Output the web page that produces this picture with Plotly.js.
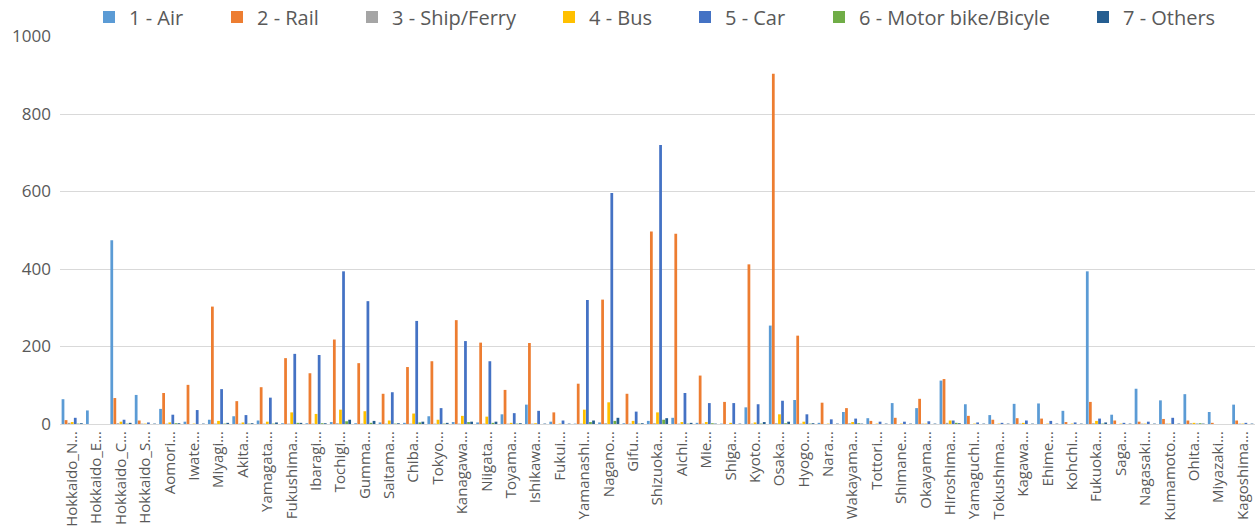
<!DOCTYPE html>
<html>
<head>
<meta charset="utf-8">
<script src="https://cdn.plot.ly/plotly-3.0.1.min.js"></script>
<style>html,body{margin:0;padding:0;background:#fff;}#chart{width:1260px;height:532px;}</style>
</head>
<body>
<div id="chart"></div>
<script>
var categories = ["Hokkaido_N...","Hokkaido_E...","Hokkaido_C...","Hokkaido_S...","Aomori...","Iwate...","Miyagi...","Akita...","Yamagata...","Fukushima...","Ibaragi...","Tochigi...","Gumma...","Saitama...","Chiba...","Tokyo...","Kanagawa...","Niigata...","Toyama...","Ishikawa...","Fukui...","Yamanashi...","Nagano...","Gifu...","Shizuoka...","Aichi...","Mie...","Shiga...","Kyoto...","Osaka...","Hyogo...","Nara...","Wakayama...","Tottori...","Shimane...","Okayama...","Hiroshima...","Yamaguchi...","Tokushima...","Kagawa...","Ehime...","Kohchi...","Fukuoka...","Saga...","Nagasaki...","Kumamoto...","Ohita...","Miyazaki...","Kagoshima..."];

var air      = [64,35,474,75,39,6,11,20,9,2,2,5,2,4,3,20,5,4,25,50,6,1,4,2,8,16,3,1,43,254,62,3,31,15,54,41,112,51,23,52,53,34,394,24,91,61,77,31,50];
var rail     = [10,0,67,9,80,101,303,59,95,170,131,218,157,78,147,162,268,210,88,209,30,104,321,78,497,491,125,57,412,904,228,55,41,8,16,65,116,21,11,15,14,5,57,9,6,13,9,3,9];
var shipFerry= [3,0,2,1,1,0,1,1,1,1,1,2,1,1,1,1,1,1,1,1,0,1,2,1,2,1,1,0,1,2,1,0,2,0,0,1,3,0,0,1,0,0,2,0,1,1,2,0,1];
var bus      = [5,0,6,1,4,1,8,4,6,30,26,37,33,9,27,11,21,19,3,2,1,37,56,8,30,5,5,3,4,25,6,1,5,1,1,1,9,1,1,3,1,1,8,1,1,1,3,0,1];
var car      = [16,0,11,4,24,36,90,23,68,181,178,394,317,82,266,41,214,162,28,34,9,320,596,32,720,80,54,54,51,60,25,12,14,6,6,7,9,4,3,9,8,4,14,3,6,16,1,0,3];
var motorBike= [1,0,1,0,2,0,1,1,1,3,2,7,3,1,4,1,5,3,1,0,0,5,8,1,11,1,2,0,1,2,1,0,2,0,0,0,3,0,0,0,0,0,1,0,0,0,2,0,0];
var others   = [2,0,3,1,2,1,3,2,4,3,2,11,8,2,6,3,6,6,2,1,1,9,16,2,15,3,1,1,5,6,2,1,1,1,1,1,2,1,1,1,1,1,4,1,1,1,1,0,1];

var names  = ["1 - Air","2 - Rail","3 - Ship/Ferry","4 - Bus","5 - Car","6 - Motor bike/Bicyle","7 - Others"];
var series = [air, rail, shipFerry, bus, car, motorBike, others];
var colors = ["#5B9BD5","#ED7D31","#A5A5A5","#FFC000","#4472C4","#70AD47","#255E91"];

// left edge (px) of each legend entry text
var legendTextX = [129, 257, 392, 589, 725, 859, 1123];

var legendIds = ["legend","legend2","legend3","legend4","legend5","legend6","legend7"];

var traces = series.map(function(s, i){
  return {
    type: "bar",
    name: names[i],
    x: categories,
    y: s,
    legend: legendIds[i],
    marker: {color: colors[i], line: {width: 0}},
    hoverinfo: "x+y+name"
  };
});

var layout = {
  width: 1260,
  height: 532,
  margin: {l: 60, r: 5, t: 36, b: 108},
  paper_bgcolor: "#ffffff",
  plot_bgcolor: "#ffffff",
  barmode: "group",
  bargap: 0.12,
  bargroupgap: 0.1,
  font: {family: "Open Sans, sans-serif", color: "#595959"},
  showlegend: true,
  xaxis: {
    type: "category",
    tickangle: -90,
    tickfont: {size: 15, color: "#595959"},
    showgrid: false,
    showline: true,
    linecolor: "#D9D9D9",
    linewidth: 1,
    ticks: "",
    automargin: false,
    fixedrange: true
  },
  yaxis: {
    range: [0, 1000],
    tickvals: [0,200,400,600,800,1000],
    tickfont: {size: 17, color: "#595959"},
    ticklabelstandoff: 8,
    showgrid: true,
    gridcolor: "#D9D9D9",
    gridwidth: 1,
    zeroline: false,
    showline: false,
    ticks: "",
    ticklen: 0,
    automargin: false,
    fixedrange: true
  }
};

legendIds.forEach(function(id, i){
  layout[id] = {
    orientation: "h",
    xref: "container", yref: "container",
    x: (legendTextX[i] - 40) / 1260, xanchor: "left",
    y: 1 - 17 / 532, yanchor: "middle",
    font: {size: 20, color: "#595959"},
    itemwidth: 30,
    bgcolor: "rgba(0,0,0,0)",
    borderwidth: 0
  };
});

Plotly.newPlot("chart", traces, layout, {displayModeBar: false, staticPlot: true});
</script>
</body>
</html>
